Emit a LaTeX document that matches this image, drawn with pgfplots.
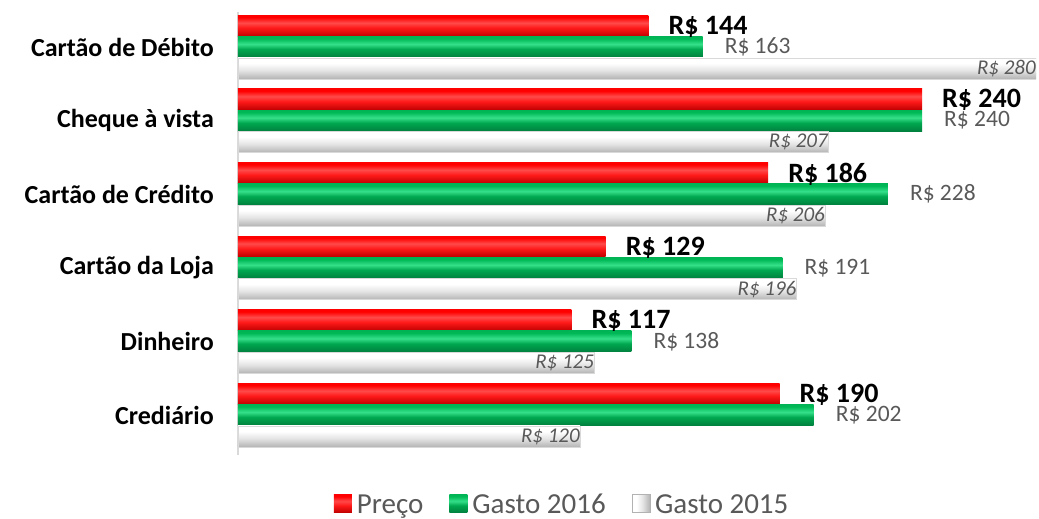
\documentclass[border=0pt]{standalone}
\usepackage{fontspec}
\setmainfont{Carlito}
\usepackage{pgfplots}
\pgfplotsset{compat=1.18}
\definecolor{txtgray}{HTML}{595959}
\definecolor{axgray}{HTML}{D9D9D9}
\definecolor{rA}{HTML}{8E0000}
\definecolor{rB}{HTML}{C00000}
\definecolor{rC}{HTML}{FF1A1A}
\definecolor{rD}{HTML}{FF4A4A}
\definecolor{rE}{HTML}{FF0000}
\definecolor{rF}{HTML}{FF7070}
\definecolor{gA}{HTML}{005C2C}
\definecolor{gB}{HTML}{00803E}
\definecolor{gC}{HTML}{00A850}
\definecolor{gD}{HTML}{35E08A}
\definecolor{gE}{HTML}{00B856}
\definecolor{gF}{HTML}{60E0A0}
\definecolor{kA}{HTML}{8C8C8C}
\definecolor{kB}{HTML}{B4B4B4}
\definecolor{kC}{HTML}{E4E4E4}
\pgfdeclareverticalshading{redbar}{100bp}{color(0bp)=(rA); color(25bp)=(rB); color(45bp)=(rC); color(57bp)=(rD); color(70bp)=(rE); color(92bp)=(rE); color(100bp)=(rF)}
\pgfdeclareverticalshading{greenbar}{100bp}{color(0bp)=(gA); color(25bp)=(gB); color(45bp)=(gC); color(57bp)=(gD); color(70bp)=(gE); color(92bp)=(gC); color(100bp)=(gF)}
\pgfdeclareverticalshading{graybar}{100bp}{color(0bp)=(kA); color(25bp)=(kB); color(45bp)=(kC); color(62bp)=(white); color(100bp)=(white)}
\newcommand{\redbar}[2]{\addplot[forget plot, draw=none, shading=redbar, bar shift=-0.29,
  every node near coord/.append style={font=\fontsize{28}{31}\selectfont\bfseries, text=black, anchor=west, inner sep=0pt, xshift=20pt, yshift=-1pt}]
  coordinates {(#1,#2)};}
\newcommand{\greenbar}[2]{\addplot[forget plot, draw=none, shading=greenbar, bar shift=0,
  every node near coord/.append style={font=\fontsize{23.5}{27}\selectfont, text=txtgray, anchor=west, inner sep=0pt, xshift=22pt}]
  coordinates {(#1,#2)};}
\newcommand{\graybar}[2]{\addplot[forget plot, draw=black!15, line width=0.5pt, shading=graybar, bar shift=0.29,
  every node near coord/.append style={font=\fontsize{21}{24}\selectfont\itshape, text=txtgray, anchor=east, inner sep=0pt, xshift=0pt}]
  coordinates {(#1,#2)};}
\begin{document}
\begin{tikzpicture}
\useasboundingbox (0pt,0pt) rectangle (1039pt,519pt);
\begin{axis}[
  at={(238pt,64pt)}, anchor=south west,
  scale only axis, width=798pt, height=443pt,
  xbar, xmin=0, xmax=280,
  ymin=-0.476, ymax=5.543, y dir=reverse,
  axis x line=none,
  axis y line*=left,
  y axis line style={draw=axgray, line width=1.5pt},
  xtick=\empty,
  ytick={0,1,2,3,4,5},
  yticklabels={Cartão de Débito, Cheque à vista, Cartão de Crédito, Cartão da Loja, Dinheiro, Crediário},
  major tick length=0pt,
  yticklabel style={font=\fontsize{26}{30}\selectfont\bfseries, text=black, inner sep=0pt, xshift=-24pt},
  bar width=0.285,
  /pgf/number format/assume math mode=true,
  point meta=x,
  nodes near coords={R\$ \pgfmathprintnumber{\pgfplotspointmeta}},
  legend style={at={(0.405,-0.112)}, anchor=center, draw=none, legend columns=3,
    font=\fontsize{29}{32}\selectfont, text=txtgray,
    /tikz/every even column/.append style={column sep=26pt},
    /tikz/every odd column/.append style={column sep=5pt},
    nodes={inner sep=0pt}},
  legend image code/.code={\path[#1] (0pt,-8pt) rectangle (18pt,10pt);},
]
% Preço
\redbar{144}{0}\redbar{240}{1}\redbar{186}{2}\redbar{129}{3}\redbar{117}{4}\redbar{190}{5}
% Gasto 2016
\greenbar{163}{0}\greenbar{240}{1}\greenbar{228}{2}\greenbar{191}{3}\greenbar{138}{4}\greenbar{202}{5}
% Gasto 2015
\graybar{280}{0}\graybar{207}{1}\graybar{206}{2}\graybar{196}{3}\graybar{125}{4}\graybar{120}{5}
\addlegendimage{draw=none, shading=redbar}
\addlegendentry{Preço}
\addlegendimage{draw=none, shading=greenbar}
\addlegendentry{Gasto 2016}
\addlegendimage{draw=black!30, shading=graybar, shading angle=90}
\addlegendentry{Gasto 2015}
\end{axis}
\end{tikzpicture}
\end{document}
